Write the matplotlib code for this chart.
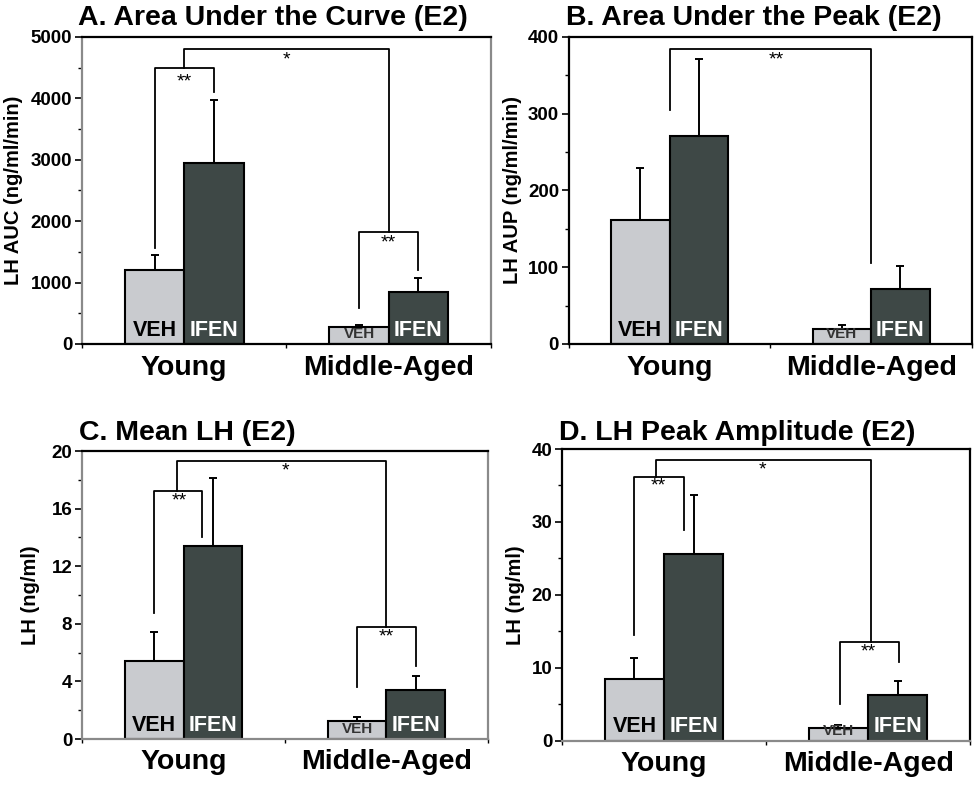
import matplotlib
matplotlib.use('Agg')
import matplotlib.pyplot as plt
import matplotlib.transforms as mtransforms
import numpy as np

plt.rcParams['font.family'] = ['Liberation Sans', 'DejaVu Sans']

# data
groups = ['Young', 'Middle-Aged']
titles = ['A. Area Under the Curve (E2)', 'B. Area Under the Peak (E2)',
          'C. Mean LH (E2)', 'D. LH Peak Amplitude (E2)']
ylabels = ['LH AUC (ng/ml/min)', 'LH AUP (ng/ml/min)', 'LH (ng/ml)', 'LH (ng/ml)']

auc_veh = [1200, 280]
auc_veh_err = [250, 30]
auc_ifen = [2950, 850]
auc_ifen_err = [1030, 225]

aup_veh = [161, 19]
aup_veh_err = [68, 6]
aup_ifen = [271, 71]
aup_ifen_err = [100, 31]

mean_veh = [5.4, 1.25]
mean_veh_err = [2.0, 0.25]
mean_ifen = [13.4, 3.4]
mean_ifen_err = [4.7, 0.95]

amp_veh = [8.5, 1.8]
amp_veh_err = [2.8, 0.4]
amp_ifen = [25.6, 6.2]
amp_ifen_err = [8.1, 2.0]

ymax = [5000, 400, 20, 40]
major = [1000, 100, 4, 10]

# brackets: (x_left, y_left_start, x_right, y_right_start, y_top, label, label_x, label_y)
brackets = [
    [(0.355, 1560, 0.645, 4100, 4500, '**', 0.5, 4270),
     (0.5, 4500, 1.5, 1830, 4800, '*', 1.0, 4620),
     (1.355, 590, 1.645, 1200, 1830, '**', 1.5, 1650)],
    [(0.5, 305, 1.5, 106, 384, '**', 1.03, 370)],
    [(0.355, 8.75, 0.59, 14.0, 17.25, '**', 0.48, 16.5),
     (0.47, 17.25, 1.5, 7.75, 19.3, '*', 1.0, 18.6),
     (1.355, 3.6, 1.645, 5.05, 7.75, '**', 1.5, 7.1)],
    [(0.355, 14.5, 0.6, 28.9, 36.2, '**', 0.47, 35.0),
     (0.46, 36.2, 1.515, 13.5, 38.5, '*', 0.98, 37.1),
     (1.36, 5.0, 1.65, 10.8, 13.5, '**', 1.5, 12.2)],
]

# spine colours (left, top, right, bottom) to mimic the scanned look
spine_cols = [('#8a8a8a', 'k', '#8a8a8a', 'k'),
              ('k', 'k', 'k', 'k'),
              ('#8a8a8a', 'k', '#8a8a8a', '#8a8a8a'),
              ('k', 'k', 'k', '#8a8a8a')]

panel_rects = [[0.0842, 0.5673, 0.4198, 0.3862],
               [0.584, 0.5673, 0.414, 0.3862],
               [0.0842, 0.0704, 0.4168, 0.3623],
               [0.577, 0.0683, 0.419, 0.3669]]
title_pos = [(0.080, 0.968), (0.581, 0.968), (0.081, 0.447), (0.574, 0.447)]
ylabel_x = [-0.144, -0.117, -0.103, -0.091]

veh_col = '#c9cbcf'
ifen_col = '#3e4846'

data = [(auc_veh, auc_veh_err, auc_ifen, auc_ifen_err),
        (aup_veh, aup_veh_err, aup_ifen, aup_ifen_err),
        (mean_veh, mean_veh_err, mean_ifen, mean_ifen_err),
        (amp_veh, amp_veh_err, amp_ifen, amp_ifen_err)]

fig = plt.figure(figsize=(9.74, 7.95), dpi=100)

x = np.array([0.5, 1.5])
w = 0.29

for i in range(4):
    ax = fig.add_axes(panel_rects[i])
    veh, veh_err, ifen, ifen_err = data[i]

    ax.bar(x - w/2, veh, w, color=veh_col, edgecolor='k', linewidth=1.5, zorder=2)
    ax.bar(x + w/2, ifen, w, color=ifen_col, edgecolor='k', linewidth=1.5, zorder=2)
    ax.errorbar(x - w/2, veh, yerr=[[0, 0], veh_err], fmt='none', ecolor='k',
                elinewidth=1.4, capsize=3, capthick=1.4, zorder=1)
    ax.errorbar(x + w/2, ifen, yerr=[[0, 0], ifen_err], fmt='none', ecolor='k',
                elinewidth=1.4, capsize=3, capthick=1.4, zorder=1)

    # labels inside the bars
    up3 = ax.transData + mtransforms.ScaledTranslation(0, 2.5/72, fig.dpi_scale_trans)
    up2 = ax.transData + mtransforms.ScaledTranslation(0, 2/72, fig.dpi_scale_trans)
    ax.text(x[0] - w/2, 0, 'VEH', ha='center', va='bottom', fontsize=15.5,
            fontweight='bold', color='k', zorder=3, transform=up3)
    ax.text(x[0] + w/2, 0, 'IFEN', ha='center', va='bottom', fontsize=15.5,
            fontweight='bold', color='white', zorder=3, transform=up3)
    ax.text(x[1] - w/2, 0, 'VEH', ha='center', va='bottom', fontsize=11,
            fontweight='bold', color='#333333', zorder=3, transform=up2)
    ax.text(x[1] + w/2, 0, 'IFEN', ha='center', va='bottom', fontsize=15.5,
            fontweight='bold', color='white', zorder=3, transform=up3)

    # significance brackets
    for (xl, yl, xr, yr, yt, lab, lx, ly) in brackets[i]:
        ax.plot([xl, xl, xr, xr], [yl, yt, yt, yr], color='k', lw=1.3, zorder=1)
        ax.text(lx, ly, lab, ha='center', va='center', fontsize=14, color='k')

    ax.set_xlim(0, 2)
    ax.set_ylim(0, ymax[i])
    ax.set_yticks(np.arange(0, ymax[i] + 1e-9, major[i]))
    ax.set_yticks(np.arange(major[i] / 2, ymax[i], major[i]), minor=True)
    ax.set_yticklabels([('%g' % v) for v in np.arange(0, ymax[i] + 1e-9, major[i])],
                       fontsize=13.5, fontweight='bold')
    ax.set_xticks([0, 1, 2])
    ax.set_xticklabels([])
    ax.tick_params(axis='y', which='major', direction='out', length=5, width=1.2, pad=2)
    ax.tick_params(axis='y', which='minor', direction='out', length=3, width=1.0)
    ax.tick_params(axis='x', direction='out', length=3, width=1.0)

    for g, xx in zip(groups, x):
        ax.text(xx, -0.035, g, transform=ax.get_xaxis_transform(), ha='center',
                va='top', fontsize=20.5, fontweight='bold')

    ax.set_ylabel(ylabels[i], fontsize=14.5, fontweight='bold')
    ax.yaxis.set_label_coords(ylabel_x[i], 0.5)

    for side, col in zip(['left', 'top', 'right', 'bottom'], spine_cols[i]):
        ax.spines[side].set_color(col)
        ax.spines[side].set_linewidth(1.6)

    fig.text(title_pos[i][0], title_pos[i][1], titles[i], ha='left', va='baseline',
             fontsize=20.5, fontweight='bold')

plt.savefig('out.png', dpi=100)
